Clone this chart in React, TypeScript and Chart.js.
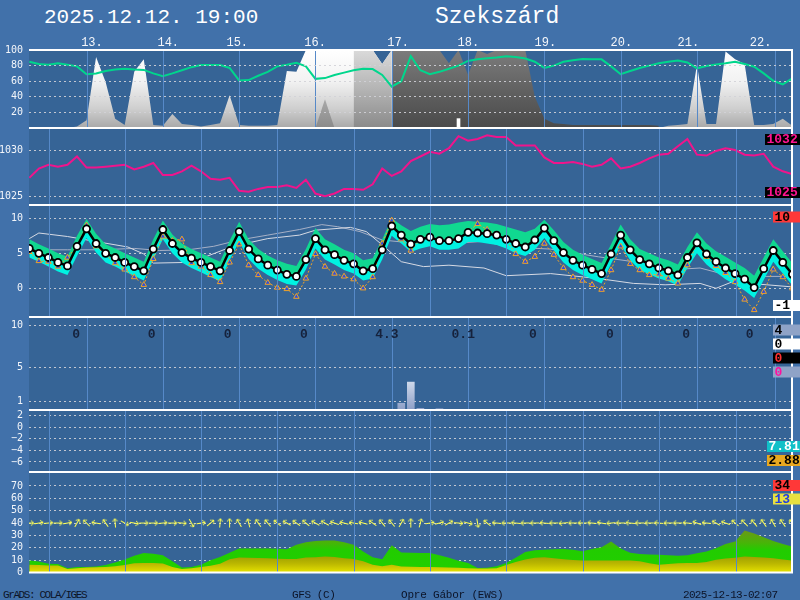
import React, { useEffect, useRef } from "react";
import { Chart, registerables } from "chart.js";

Chart.register(...registerables);

// ---------------- data ----------------
// 3-hourly steps from 2025-12-12 18 UTC (hours since start)
const stepHours = Array.from({ length: 81 }, (_, i) => i * 3);

const dayLineHours = [6.5, 30.1, 54.1, 78.0, 102.2, 126.1, 150.0, 174.2, 198.1, 222.5];
const dayLabels = ["13.", "14.", "15.", "16.", "17.", "18.", "19.", "20.", "21.", "22."];
const dayLabelHours = [19.7, 43.7, 65.4, 89.9, 116.0, 138.1, 162.3, 186.2, 207.3, 230.0];

// cloud cover layers (%)
const cloudLight = [
  0, 0, 0, 0, 0, 2, 10, 91, 59, 12,
  4, 72, 88, 4, 3, 18, 5, 4, 2, 4,
  6, 42, 4, 3, 3, 3, 4, 73, 72, 100,
  100, 100, 100, 100, 100, 100, 100, 82, 100, 0,
  0, 0, 0, 0, 0, 0, 0, 0, 0, 0,
  0, 0, 0, 0, 0, 0, 0, 0, 0, 0,
  0, 0, 0, 0, 0, 0, 0, 3, 4, 5,
  81, 5, 5, 98, 88, 82, 4, 4, 5, 12,
  3,
];
const cloudMid = [
  null, null, null, null, null, null, null, null, null, null,
  null, null, null, null, null, null, null, null, null, null,
  null, null, null, null, null, null, null, null, null, null,
  0, 37, 0, null, 100, 100, 100, 82, 100, null,
  null, null, null, null, null, null, null, null, null, null,
  null, null, null, null, null, null, null, null, null, null,
  null, null, null, null, null, null, null, null, null, null,
  null, null, null, null, null, null, null, null, null, null,
  null,
];
const cloudDark = [
  null, null, null, null, null, null, null, null, null, null,
  null, null, null, null, null, null, null, null, null, null,
  null, null, null, null, null, null, null, null, null, null,
  null, null, null, null, null, null, null, null, 100, 100,
  100, 100, 100, 100, 83, 100, 68, 100, 95, 100,
  100, 100, 100, 40, 12, 6, 5, 4, 4, 4,
  4, 4, 4, 4, 4, 4, 3, null, null, null,
  null, null, null, null, null, null, null, null, null, null,
  null,
];
const cloudBarHours = [135];
const cloudBarValues = [12];

// relative humidity (%)
const humidity = [
  85, 82, 81, 83, 81, 79, 69, 70, 73, 75,
  76, 75, 74.5, 70, 66.5, 70, 74, 78, 80.7, 80.7,
  80.7, 77, 61, 61.4, 67, 72, 79, 81, 83.7, 79,
  63, 64, 68, 71, 74, 76, 75.5, 68, 53, 60,
  92, 74, 69, 72, 76, 80, 86, 88, 89.5, 90.5,
  92, 91, 89, 85, 77, 80, 85, 87, 88.4, 88.3,
  88, 79, 69, 73, 77, 80, 83, 85, 86.5, 84,
  76.5, 79.5, 81.5, 83, 85, 82, 78.5, 70, 60.5, 56,
  63.6,
];

// sea level pressure (hPa)
const pressure = [
  1027.0, 1028.0, 1028.4, 1028.2, 1028.4, 1029.3, 1028.1, 1028.1, 1028.2, 1028.3,
  1028.4, 1027.9, 1028.2, 1028.6, 1027.3, 1027.3, 1027.7, 1028.3, 1027.7, 1026.9,
  1026.8, 1027.0, 1025.6, 1025.5, 1025.8, 1026.0, 1026.0, 1026.2, 1025.9, 1026.8,
  1025.3, 1025.0, 1025.3, 1025.8, 1025.8, 1025.7, 1026.3, 1028.0, 1027.2, 1027.7,
  1028.8, 1029.3, 1029.8, 1029.6, 1030.2, 1031.5, 1031.0, 1031.2, 1031.6, 1031.4,
  1031.4, 1030.5, 1030.5, 1030.5, 1029.2, 1028.6, 1028.6, 1028.7, 1028.5, 1028.2,
  1028.4, 1029.1, 1028.0, 1028.2, 1028.6, 1029.1, 1029.5, 1029.6, 1030.4, 1031.2,
  1029.5, 1029.4, 1029.9, 1030.2, 1030.0, 1029.5, 1029.4, 1029.6, 1028.2, 1027.7,
  1027.4,
];

// 2 m temperature (°C) and ensemble spread
const tempUpper = [
  7.0, 6.3, 5.7, 5.0, 4.5, 7.5, 9.9, 7.8, 6.3, 5.7,
  5.0, 4.4, 3.8, 7.0, 9.7, 7.7, 6.4, 5.6, 5.0, 4.4,
  3.8, 6.8, 9.5, 7.0, 5.6, 4.7, 4.0, 3.5, 3.2, 5.6,
  8.6, 7.0, 6.3, 5.5, 5.0, 4.0, 4.3, 7.0, 10.0, 9.0,
  8.2, 8.8, 9.2, 9.0, 9.1, 9.4, 9.6, 9.5, 9.4, 9.2,
  8.8, 8.4, 8.0, 8.5, 9.8, 8.3, 6.6, 5.5, 4.8, 4.2,
  3.6, 6.3, 9.1, 7.0, 5.6, 5.0, 4.4, 4.0, 3.4, 5.9,
  8.0, 6.4, 5.3, 4.5, 3.7, 2.9, 1.8, 4.4, 7.0, 5.3,
  3.6,
];
const temperature = [
  5.7, 5.0, 4.4, 3.7, 3.2, 6.0, 8.5, 6.4, 5.0, 4.4,
  3.7, 3.1, 2.5, 5.6, 8.4, 6.4, 5.1, 4.3, 3.7, 3.1,
  2.5, 5.4, 8.1, 5.6, 4.2, 3.3, 2.6, 2.0, 1.7, 4.1,
  7.1, 5.5, 4.8, 4.0, 3.5, 2.5, 2.8, 5.5, 8.9, 7.6,
  6.3, 7.0, 7.3, 6.8, 6.8, 7.1, 8.0, 7.9, 7.8, 7.6,
  7.0, 6.4, 5.9, 6.9, 8.6, 6.8, 5.1, 4.0, 3.3, 2.7,
  2.1, 4.9, 7.6, 5.5, 4.1, 3.5, 2.9, 2.5, 1.9, 4.4,
  6.5, 4.9, 3.8, 2.9, 2.1, 1.3, 0.1, 2.8, 5.4, 3.7,
  2.0,
];
const tempLower = [
  4.4, 3.8, 3.1, 2.4, 1.9, 4.6, 7.2, 5.1, 3.7, 3.1,
  2.4, 1.8, 1.1, 4.2, 7.0, 5.0, 3.7, 2.9, 2.3, 1.6,
  1.0, 4.0, 6.7, 4.2, 2.8, 1.9, 1.2, 0.6, 0.4, 2.7,
  5.7, 4.1, 3.4, 2.6, 2.1, 1.1, 1.4, 4.1, 7.5, 6.4,
  5.2, 5.7, 6.0, 5.5, 5.5, 5.7, 6.6, 6.6, 6.4, 6.2,
  5.7, 5.0, 4.6, 5.5, 7.2, 5.4, 3.7, 2.6, 1.9, 1.3,
  0.7, 3.5, 6.2, 4.0, 2.6, 2.0, 1.4, 1.0, 0.4, 2.9,
  5.0, 3.4, 2.3, 1.3, 0.5, -0.3, -1.4, 1.2, 3.8, 2.1,
  0.4,
];
const dewpoint = [
  5.2, 3.9, 3.8, 3.1, 4.4, 6.0, 9.0, 6.0, 4.8, 3.6,
  2.7, 1.6, 0.5, 4.2, 7.4, 6.8, 7.0, 3.6, 3.1, 1.9,
  0.9, 3.7, 6.3, 3.3, 1.9, 0.8, 0.1, -0.1, -1.2, 1.4,
  4.9, 3.1, 2.1, 1.7, 1.3, 0.0, 1.6, 6.4, 9.7, 7.0,
  5.4, 7.0, 7.3, 6.8, 6.8, 7.0, 8.1, 9.2, 8.4, 7.6,
  6.9, 4.9, 3.8, 4.5, 6.4, 4.8, 2.9, 1.6, 1.1, 0.5,
  -0.2, 2.6, 6.0, 3.5, 2.6, 1.9, 2.0, 1.4, 0.7, 3.3,
  6.4, 4.5, 3.2, 2.2, 0.9, -1.6, -3.1, -0.5, 2.7, 1.6,
  0.0,
];
const grayLine1Hours = [0, 3, 12, 22, 31, 36, 39, 50, 56, 64, 75, 85, 90, 101, 106, 111, 117, 124, 132, 143, 150, 164, 179, 190, 200, 211, 216, 221, 232, 240];
const grayLine1 = [7.1, 7.9, 7.4, 6.6, 5.9, 4.9, 3.6, 3.7, 4.6, 6.0, 7.1, 7.6, 8.3, 8.7, 8.1, 6.2, 3.8, 3.1, 3.3, 2.9, 1.8, 2.1, 1.4, 0.7, 0.5, 0.7, 0.0, 0.9, 0.5, 0.2];
const grayLine2Hours = [0, 12, 22, 33, 41, 50, 58, 66, 75, 85, 92, 97, 104, 111, 122, 132, 143, 151, 164, 179, 190, 200, 211, 221, 232, 240];
const grayLine2 = [5.5, 5.5, 5.5, 5.7, 5.4, 5.5, 6.0, 6.9, 7.6, 8.4, 9.1, 8.8, 8.1, 6.9, 6.4, 6.4, 6.7, 5.9, 5.6, 4.5, 3.8, 2.6, 2.9, 1.7, 1.7, 1.7];

// precipitation (mm / 3h) and daily totals
const precipHours = [117, 120, 123, 129, 132];
const precip = [0.8, 3.3, 0.2, 0.15, 0.05];
const dailyPrecipHours = [14.7, 38.5, 62.4, 86.4, 112.5, 136.5, 158.4, 182.6, 206.6, 226.6];
const dailyPrecipLabels = ["0", "0", "0", "0", "4.3", "0.1", "0", "0", "0", "0"];

// wind gust / mean wind (km/h), arrow direction (screen degrees, 0 = east, 90 = north)
const gust = [
  9.7, 8.9, 7.0, 6.8, 3.5, 4.4, 4.5, 4.8, 6.0, 8.0,
  10.5, 13.5, 15.7, 15.1, 14.0, 9.0, 4.0, 4.5, 6.2, 10.0,
  12.5, 16.0, 19.4, 19.4, 19.4, 19.4, 19.2, 18.9, 22.4, 24.5,
  25.5, 25.8, 25.8, 24.5, 22.5, 17.0, 12.4, 10.8, 22.0, 16.2,
  16.0, 15.8, 15.7, 14.0, 12.0, 9.5, 7.6, 3.6, 3.8, 5.0,
  7.6, 12.0, 16.5, 18.0, 18.4, 18.8, 19.1, 18.5, 17.2, 19.0,
  20.5, 25.0, 19.5, 16.0, 15.0, 14.5, 14.3, 14.0, 13.6, 14.0,
  15.5, 17.0, 19.7, 23.0, 25.0, 33.9, 31.5, 28.5, 25.5, 23.0,
  21.0,
];
const windSpeed = [
  6.2, 6.0, 5.7, 5.7, 2.8, 3.5, 4.0, 4.3, 4.5, 5.0,
  6.0, 7.5, 7.6, 7.6, 7.2, 4.5, 2.8, 3.5, 4.4, 5.5,
  7.0, 10.8, 12.1, 12.0, 11.8, 11.6, 11.2, 10.9, 11.0, 12.1,
  12.4, 12.9, 12.5, 11.6, 11.0, 9.0, 6.2, 5.0, 6.2, 4.8,
  4.6, 4.5, 4.4, 4.2, 4.0, 3.8, 3.5, 3.2, 3.2, 3.5,
  6.0, 8.5, 10.5, 12.0, 12.4, 11.5, 10.8, 10.2, 9.7, 9.7,
  9.7, 9.7, 9.7, 9.7, 9.0, 7.5, 6.2, 6.8, 7.4, 7.6,
  7.6, 8.5, 10.3, 11.3, 12.0, 12.9, 12.6, 12.2, 11.6, 10.5,
  9.7,
];
const windArrowDeg = [
  0, 10, 5, 0, 10, 60, 135, 170, 125, 95,
  -30, -10, 0, 0, 5, 0, -5, -60, 10, 40,
  85, 90, 120, 105, 125, 130, 140, 150, 145, 140,
  150, 150, 160, 165, 170, 165, 145, 130, 130, 60,
  90, 75, 10, 15, 30, -5, -15, -80, 140, 175,
  180, 175, 180, 180, 175, 180, 185, 180, 180, 175,
  170, 185, 180, 175, 180, 180, 175, 180, 180, 175,
  160, 175, 150, 160, 140, 135, 130, 125, 120, 125,
  130,
];
const windArrowLevel = 40;

// extreme value boxes on the right
const pressureBoxes = ["1032", "1025"];
const tempBoxes = ["10", "-1"];
const precipBoxes = ["4", "0", "0", "0"];
const indexBoxes = ["7.81", "2.88"];
const windBoxes = ["34", "13"];

// ---------------- styles ----------------
const PAGE_BG = "#4171AA";
const PLOT_BG = "#366496";
const DAY_LINE = "#5689C8";
const GRID = "rgba(210,210,215,0.9)";
const MONO = "'Liberation Mono', 'DejaVu Sans Mono', monospace";

type RightLabel = { text: string; y: number; x: number; bg: string; fg: string };
interface PanelDef {
  key: string;
  top: number;
  bottom: number;
  padTop: number;
  padBottom: number;
  min: number;
  max: number;
  ticks: number[];
  hideGrid?: number[];
  gridOnTop?: boolean;
  labels?: RightLabel[];
  datasets: () => any[];
  extra?: (chart: any, ctx: CanvasRenderingContext2D, canvasTop: number) => void;
}

const pts = (ys: (number | null)[]) => stepHours.map((h, i) => ({ x: h, y: ys[i] }));
const pairs = (xs: number[], ys: number[]) => xs.map((x, i) => ({ x, y: ys[i] }));

function vGrad(chart: any, stops: [number, string][], fallback: string) {
  const { ctx, chartArea, scales } = chart;
  if (!chartArea || !scales || !scales.y) return fallback;
  const ys = scales.y;
  const y0 = ys.getPixelForValue(stops[0][0]);
  const y1 = ys.getPixelForValue(stops[stops.length - 1][0]);
  const g = ctx.createLinearGradient(0, y0, 0, y1);
  stops.forEach(([v, c]) => {
    const o = (ys.getPixelForValue(v) - y0) / (y1 - y0 || 1);
    g.addColorStop(Math.min(1, Math.max(0, o)), c);
  });
  return g;
}

const fillSet = (data: any[], bg: any, order: number, fill: any = "origin") => ({
  type: "line",
  data,
  fill,
  backgroundColor: bg,
  borderColor: "rgba(0,0,0,0)",
  borderWidth: 0,
  pointRadius: 0,
  spanGaps: false,
  order,
});

function makeArrow() {
  const c = document.createElement("canvas");
  c.width = 11;
  c.height = 9;
  const a = c.getContext("2d")!;
  a.strokeStyle = "#FFFF50";
  a.lineWidth = 1;
  a.beginPath();
  a.moveTo(1, 4.5);
  a.lineTo(10, 4.5);
  a.moveTo(10, 4.5);
  a.lineTo(7, 2);
  a.moveTo(10, 4.5);
  a.lineTo(7, 7);
  a.stroke();
  return c;
}

const panels: PanelDef[] = [
  {
    key: "cloud",
    top: 50,
    bottom: 128,
    padTop: 22,
    padBottom: 14,
    min: 0,
    max: 100,
    ticks: [20, 40, 60, 80, 100],
    hideGrid: [100],
    gridOnTop: true,
    datasets: () => [
      { type: "line", data: pts(humidity), borderColor: "#00D68C", borderWidth: 2, pointRadius: 0, fill: false, order: 0 },
      { type: "bar", data: pairs(cloudBarHours, cloudBarValues), backgroundColor: "#FFFFFF", barThickness: 3, order: 1 },
      fillSet(pts(cloudDark), (c: any) => vGrad(c.chart, [[100, "#7C7C7C"], [50, "#626262"], [0, "#4A4A4A"]], "#666"), 2),
      fillSet(pts(cloudMid), (c: any) => vGrad(c.chart, [[100, "#DADADA"], [50, "#B4B4B4"], [0, "#8A8A8A"]], "#aaa"), 3),
      fillSet(pts(cloudLight), (c: any) => vGrad(c.chart, [[100, "#FFFFFF"], [60, "#F2F2F2"], [25, "#CFCFCF"], [0, "#A8A8A8"]], "#eee"), 4),
    ],
    extra: (chart, ctx) => {
      const xs = chart.scales.x;
      ctx.font = `12px ${MONO}`;
      ctx.fillStyle = "#F4F6FA";
      ctx.textAlign = "center";
      ctx.textBaseline = "alphabetic";
      dayLabels.forEach((t, i) => ctx.fillText(t, xs.getPixelForValue(dayLabelHours[i]), chart.chartArea.top - 4));
    },
  },
  {
    key: "pressure",
    top: 128,
    bottom: 205,
    padTop: 14,
    padBottom: 14,
    min: 1024.06,
    max: 1032.38,
    ticks: [1025, 1030],
    labels: [
      { text: pressureBoxes[0], y: 139.5, x: 765, bg: "#000000", fg: "#FF1493" },
      { text: pressureBoxes[1], y: 192.5, x: 765, bg: "#000000", fg: "#FF1493" },
    ],
    datasets: () => [
      { type: "line", data: pts(pressure), borderColor: "#F0148C", borderWidth: 2, pointRadius: 0, fill: false },
    ],
  },
  {
    key: "temp",
    top: 205,
    bottom: 317,
    padTop: 14,
    padBottom: 14,
    min: -4.1,
    max: 11.9,
    ticks: [0, 5, 10],
    labels: [
      { text: tempBoxes[0], y: 217, x: 773, bg: "#FF3838", fg: "#000000" },
      { text: tempBoxes[1], y: 305.5, x: 773, bg: "#FFFFFF", fg: "#000000" },
    ],
    datasets: () => [
      fillSet(pts(tempUpper), "#10D890", 5, "+1"),
      {
        type: "line",
        data: pts(temperature),
        borderColor: "#000000",
        borderWidth: 2.5,
        pointStyle: "circle",
        pointRadius: 3.5,
        pointBackgroundColor: "#FFFFFF",
        pointBorderColor: "#000000",
        pointBorderWidth: 1.8,
        fill: false,
        order: 0,
      },
      fillSet(pts(tempLower), "#00F2E2", 5, "-1"),
      {
        type: "line",
        data: pts(dewpoint),
        borderColor: "#F2A424",
        borderWidth: 1,
        borderDash: [2, 2],
        pointStyle: "triangle",
        pointRadius: 3.2,
        pointBackgroundColor: "#2C4CE0",
        pointBorderColor: "#F2A424",
        pointBorderWidth: 1,
        fill: false,
        order: 1,
      },
      { type: "line", data: pairs(grayLine1Hours, grayLine1), borderColor: "#D6DAE4", borderWidth: 1, pointRadius: 0, fill: false, order: 6 },
      { type: "line", data: pairs(grayLine2Hours, grayLine2), borderColor: "#A6B0C6", borderWidth: 1, pointRadius: 0, fill: false, order: 6 },
    ],
  },
  {
    key: "precip",
    top: 317,
    bottom: 410,
    padTop: 14,
    padBottom: 14,
    min: 0,
    max: 11,
    ticks: [1, 5, 10],
    labels: [
      { text: precipBoxes[0], y: 330, x: 773, bg: "#8FA3C7", fg: "#000000" },
      { text: precipBoxes[1], y: 344, x: 773, bg: "#FFFFFF", fg: "#000000" },
      { text: precipBoxes[2], y: 358, x: 773, bg: "#000000", fg: "#FF3030" },
      { text: precipBoxes[3], y: 372, x: 773, bg: "#8FA3C7", fg: "#FF10A0" },
    ],
    datasets: () => [
      {
        type: "bar",
        data: pairs(precipHours, precip),
        backgroundColor: (c: any) => vGrad(c.chart, [[4, "#DDE5F2"], [0, "#8C9EC6"]], "#b0c0dc"),
        barThickness: 7,
      },
    ],
    extra: (chart, ctx, canvasTop) => {
      const xs = chart.scales.x;
      ctx.font = `bold 13px ${MONO}`;
      ctx.fillStyle = "#16223C";
      ctx.textAlign = "center";
      ctx.textBaseline = "alphabetic";
      dailyPrecipLabels.forEach((t, i) => ctx.fillText(t, xs.getPixelForValue(dailyPrecipHours[i]), 338 - canvasTop));
    },
  },
  {
    key: "index",
    top: 410,
    bottom: 472,
    padTop: 14,
    padBottom: 14,
    min: -7.73,
    max: 2.98,
    ticks: [2, 0, -2, -4, -6],
    labels: [
      { text: indexBoxes[0], y: 446.5, x: 767, bg: "#10C0C8", fg: "#FFFFFF" },
      { text: indexBoxes[1], y: 460.5, x: 767, bg: "#E8A820", fg: "#000000" },
    ],
    datasets: () => [],
  },
  {
    key: "wind",
    top: 472,
    bottom: 572.5,
    padTop: 14,
    padBottom: 13.5,
    min: 0,
    max: 81.3,
    ticks: [0, 10, 20, 30, 40, 50, 60, 70],
    hideGrid: [0],
    labels: [
      { text: windBoxes[0], y: 485.5, x: 773, bg: "#FF3838", fg: "#000000" },
      { text: windBoxes[1], y: 499, x: 773, bg: "#E8E040", fg: "#2040E0" },
    ],
    datasets: () => {
      const arrow = makeArrow();
      return [
        {
          type: "line",
          data: stepHours.map((h) => ({ x: h, y: windArrowLevel })),
          showLine: false,
          pointStyle: arrow,
          pointRadius: 5,
          pointRotation: (c: any) => -windArrowDeg[c.dataIndex],
          order: 0,
        },
        fillSet(pts(windSpeed), (c: any) => vGrad(c.chart, [[14, "#9A9C00"], [7, "#BCB800"], [0, "#E6E200"]], "#c8c400"), 1),
        fillSet(pts(gust), (c: any) => vGrad(c.chart, [[34, "#6A9818"], [24, "#48B408"], [18, "#22CC00"], [0, "#20D000"]], "#22cc00"), 2),
      ];
    },
  },
];

function makeConfig(def: PanelDef, canvasTop: number): any {
  const hide = def.hideGrid || [];
  const plugin = {
    id: "panel_" + def.key,
    beforeDraw(chart: any) {
      const { ctx, chartArea: a } = chart;
      ctx.save();
      ctx.fillStyle = PLOT_BG;
      ctx.fillRect(a.left, a.top, a.right - a.left, a.bottom - a.top);
      ctx.restore();
    },
    afterDraw(chart: any) {
      const { ctx, chartArea: a } = chart;
      ctx.save();
      ctx.strokeStyle = "#FFFFFF";
      ctx.lineWidth = 2;
      ctx.beginPath();
      ctx.moveTo(a.left, a.top);
      ctx.lineTo(a.right + 1, a.top);
      ctx.moveTo(a.left, a.bottom);
      ctx.lineTo(a.right + 1, a.bottom);
      ctx.moveTo(a.right, a.top - 1);
      ctx.lineTo(a.right, a.bottom + 1);
      ctx.stroke();
      if (def.extra) def.extra(chart, ctx, canvasTop);
      (def.labels || []).forEach((l) => {
        const y = l.y - canvasTop;
        ctx.fillStyle = l.bg;
        ctx.fillRect(l.x, y - 5.5, 800 - l.x, 11);
        ctx.fillStyle = l.fg;
        ctx.font = `bold 13px ${MONO}`;
        ctx.textAlign = "left";
        ctx.textBaseline = "middle";
        ctx.fillText(l.text, l.x + 1.5, y + 0.5);
      });
      ctx.restore();
    },
  };
  return {
    type: "line",
    data: { datasets: def.datasets() },
    options: {
      responsive: false,
      maintainAspectRatio: false,
      animation: false,
      devicePixelRatio: 1,
      events: [],
      layout: { padding: { top: def.padTop, bottom: def.padBottom, left: 0, right: 8 } },
      plugins: { legend: { display: false }, tooltip: { enabled: false }, title: { display: false } },
      scales: {
        x: {
          type: "linear",
          min: -0.1,
          max: 239.9,
          offset: false,
          afterFit: (s: any) => {
            s.height = 0;
          },
          afterBuildTicks: (s: any) => {
            s.ticks = dayLineHours.map((v) => ({ value: v }));
          },
          ticks: { display: false, autoSkip: false },
          grid: { color: DAY_LINE, lineWidth: 1, drawTicks: false, z: 1 },
          border: { display: false },
        },
        y: {
          type: "linear",
          min: def.min,
          max: def.max,
          afterFit: (s: any) => {
            s.width = 29;
          },
          afterBuildTicks: (s: any) => {
            s.ticks = def.ticks.map((v) => ({ value: v }));
          },
          ticks: {
            autoSkip: false,
            padding: 6,
            color: "#F2F5FA",
            font: { family: "'DejaVu Sans Mono', monospace", size: 10 },
            callback: (v: number) => (v < 0 ? "\u2212" + Math.abs(v) : String(v)),
          },
          grid: {
            color: (c: any) => (c.tick && hide.includes(c.tick.value) ? "rgba(0,0,0,0)" : GRID),
            lineWidth: 1,
            drawTicks: false,
            z: def.gridOnTop ? 1 : -1,
          },
          border: { display: false, dash: [2, 3] },
        },
      },
    },
    plugins: [plugin],
  };
}

function Panel({ def }: { def: PanelDef }) {
  const ref = useRef<HTMLCanvasElement>(null);
  const h = def.bottom - def.top + def.padTop + def.padBottom;
  const canvasTop = def.top - def.padTop;
  useEffect(() => {
    if (!ref.current) return;
    const chart = new Chart(ref.current, makeConfig(def, canvasTop));
    return () => chart.destroy();
  }, [def, canvasTop]);
  return (
    <canvas
      ref={ref}
      width={800}
      height={h}
      style={{ position: "absolute", left: 0, top: canvasTop, width: 800, height: h }}
    />
  );
}

const txt = (left: number, top: number, size: number, color: string, extra: any = {}) => ({
  position: "absolute" as const,
  left,
  top,
  fontFamily: MONO,
  fontSize: size,
  lineHeight: 1,
  color,
  whiteSpace: "pre" as const,
  margin: 0,
  ...extra,
});

export default function App() {
  return (
    <div
      style={{
        position: "fixed",
        left: 0,
        top: 0,
        width: 800,
        height: 600,
        background: PAGE_BG,
        overflow: "hidden",
      }}
    >
      <span style={txt(44, 6.6, 21, "#FFFFFF")}>2025.12.12. 19:00</span>
      <span style={txt(435, 5.7, 23, "#FFFFFF")}>Szekszárd</span>
      {panels.map((p) => (
        <Panel key={p.key} def={p} />
      ))}
      <span style={txt(3, 589.5, 11, "#0C1428", { letterSpacing: "-1.4px" })}>GrADS: COLA/IGES</span>
      <span style={txt(292, 589.5, 11, "#0C1428", { letterSpacing: "-0.4px" })}>GFS (C)</span>
      <span style={txt(401, 589.5, 11, "#0C1428", { letterSpacing: "-0.2px" })}>Opre Gábor (EWS)</span>
      <span style={txt(683, 589.5, 11, "#0C1428", { letterSpacing: "-0.7px" })}>2025-12-13-02:07</span>
    </div>
  );
}
